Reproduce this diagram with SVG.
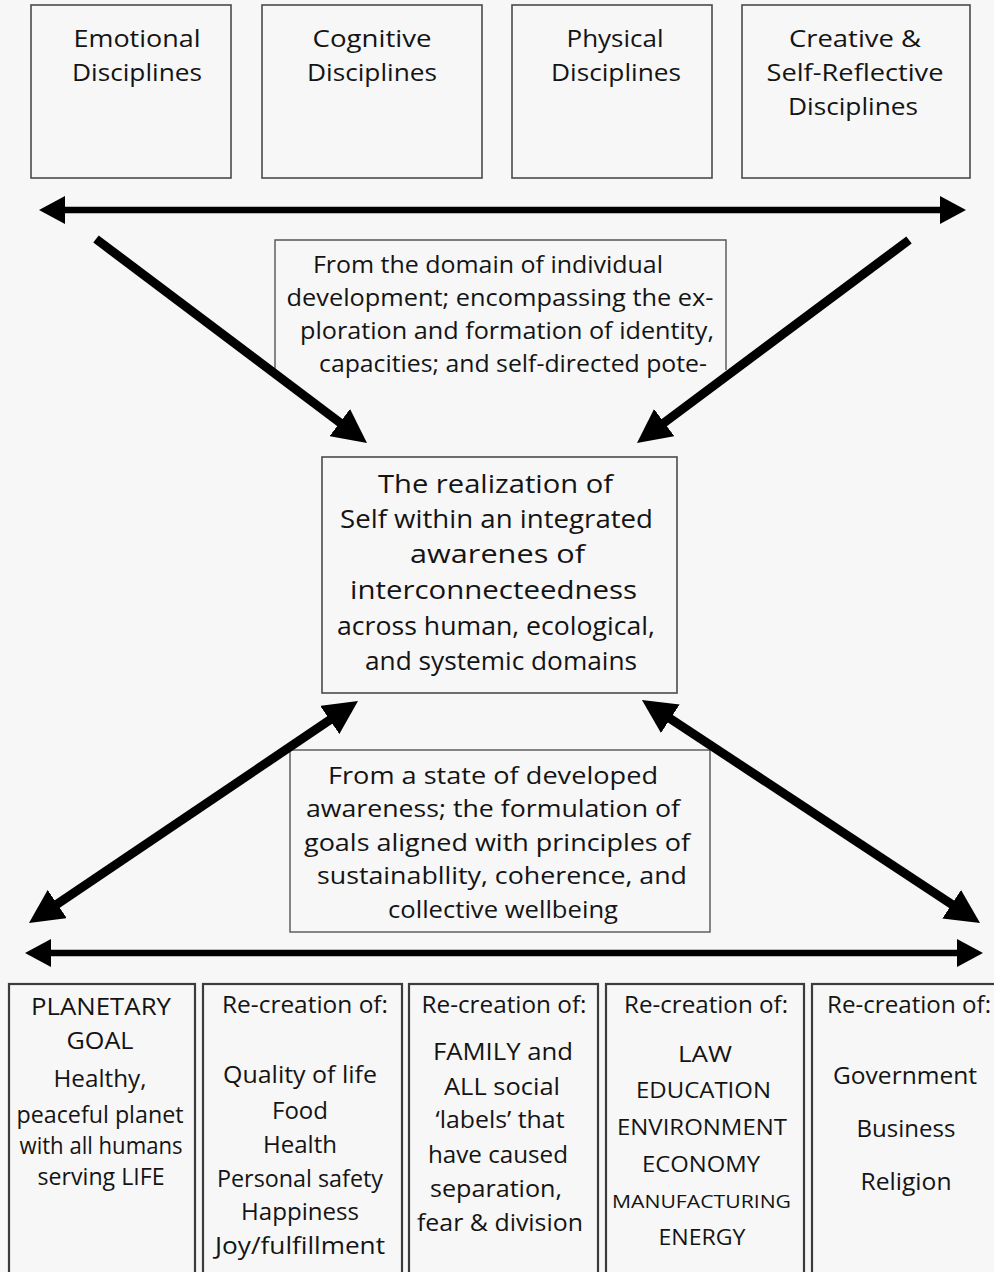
<svg xmlns="http://www.w3.org/2000/svg" width="994" height="1272" viewBox="0 0 994 1272">
  <style>
    .bg { fill: #f7f7f7; }
    .box { fill: none; stroke: #4a4a4a; stroke-width: 1.6; }
    .cbox { fill: none; stroke: #555; stroke-width: 1.4; }
    .lbox { fill: none; stroke: #3c3c3c; stroke-width: 2.2; }
    .t { font-family: "Open Sans", "Liberation Sans", sans-serif; fill: #141414; text-anchor: middle; }
    .f24 { font-size: 24px; }
    .f25 { font-size: 25px; }
    .f23 { font-size: 23px; }
    .f21 { font-size: 21px; }
    .f19 { font-size: 19px; }
    .h { stroke: #000; stroke-width: 6.5; fill: none; }
    .d { stroke: #000; stroke-width: 9; fill: none; }
  </style>
  <defs>
    <marker id="headH" viewBox="0 0 26 28" markerWidth="26" markerHeight="28" refX="16" refY="14" markerUnits="userSpaceOnUse" orient="auto-start-reverse">
      <path d="M0,0 L26,14 L0,28 z" fill="#000"/>
    </marker>
    <marker id="headD" viewBox="0 0 34 34" markerWidth="34" markerHeight="34" refX="24" refY="17" markerUnits="userSpaceOnUse" orient="auto-start-reverse">
      <path d="M0,0 L34,17 L0,34 z" fill="#000"/>
    </marker>
  </defs>

  <rect class="bg" x="0" y="0" width="994" height="1272"/>

  <!-- top row of disciplines -->
  <g id="emotional">
    <rect class="box" x="31" y="5" width="200" height="173"/>
    <text class="t f24" x="137" y="47" textLength="127" lengthAdjust="spacingAndGlyphs">Emotional</text>
    <text class="t f24" x="137" y="81" textLength="130" lengthAdjust="spacingAndGlyphs">Disciplines</text>
  </g>
  <g id="cognitive">
    <rect class="box" x="262" y="5" width="220" height="173"/>
    <text class="t f24" x="372" y="47" textLength="119" lengthAdjust="spacingAndGlyphs">Cognitive</text>
    <text class="t f24" x="372" y="81" textLength="130" lengthAdjust="spacingAndGlyphs">Disciplines</text>
  </g>
  <g id="physical">
    <rect class="box" x="512" y="5" width="200" height="173"/>
    <text class="t f24" x="615" y="47" textLength="97" lengthAdjust="spacingAndGlyphs">Physical</text>
    <text class="t f24" x="616" y="81" textLength="130" lengthAdjust="spacingAndGlyphs">Disciplines</text>
  </g>
  <g id="creative">
    <rect class="box" x="742" y="5" width="228" height="173"/>
    <text class="t f24" x="855" y="47" textLength="132" lengthAdjust="spacingAndGlyphs">Creative &amp;</text>
    <text class="t f24" x="855" y="81" textLength="177" lengthAdjust="spacingAndGlyphs">Self-Reflective</text>
    <text class="t f24" x="853" y="115" textLength="130" lengthAdjust="spacingAndGlyphs">Disciplines</text>
  </g>

  <!-- upper explanatory note (open at the bottom) -->
  <g id="note-individual">
    <path class="cbox" d="M275,370 L275,240 L726,240 L726,370"/>
    <text class="t f24" x="488" y="273" textLength="350" lengthAdjust="spacingAndGlyphs">From the domain of individual</text>
    <text class="t f24" x="500" y="306" textLength="427" lengthAdjust="spacingAndGlyphs">development; encompassing the ex-</text>
    <text class="t f24" x="507" y="339" textLength="414" lengthAdjust="spacingAndGlyphs">ploration and formation of identity,</text>
    <text class="t f24" x="513" y="372" textLength="388" lengthAdjust="spacingAndGlyphs">capacities; and self-directed pote-</text>
  </g>

  <!-- central realization -->
  <g id="realization">
    <rect class="box" x="322" y="457" width="355" height="236"/>
    <text class="t f25" x="495.5" y="493" textLength="235" lengthAdjust="spacingAndGlyphs">The realization of</text>
    <text class="t f25" x="496.5" y="528" textLength="313" lengthAdjust="spacingAndGlyphs">Self within an integrated</text>
    <text class="t f25" x="497.5" y="563" textLength="175" lengthAdjust="spacingAndGlyphs">awarenes of</text>
    <text class="t f25" x="493.5" y="599" textLength="287" lengthAdjust="spacingAndGlyphs">interconnecteedness</text>
    <text class="t f25" x="496" y="635" textLength="318" lengthAdjust="spacingAndGlyphs">across human, ecological,</text>
    <text class="t f25" x="501" y="670" textLength="272" lengthAdjust="spacingAndGlyphs">and systemic domains</text>
  </g>

  <!-- lower explanatory note -->
  <g id="note-goals">
    <rect class="cbox" x="290" y="750" width="420" height="182"/>
    <text class="t f24" x="493" y="784" textLength="330" lengthAdjust="spacingAndGlyphs">From a state of developed</text>
    <text class="t f24" x="493" y="817" textLength="374" lengthAdjust="spacingAndGlyphs">awareness; the formulation of</text>
    <text class="t f24" x="497" y="851" textLength="386" lengthAdjust="spacingAndGlyphs">goals aligned with principles of</text>
    <text class="t f24" x="502" y="884" textLength="370" lengthAdjust="spacingAndGlyphs">sustainabllity, coherence, and</text>
    <text class="t f24" x="503" y="918" textLength="230" lengthAdjust="spacingAndGlyphs">collective wellbeing</text>
  </g>

  <!-- bottom row of re-creation columns -->
  <g id="planetary-goal">
    <rect class="lbox" x="9" y="984" width="186" height="300"/>
    <text class="t f23" x="101" y="1015" textLength="140" lengthAdjust="spacingAndGlyphs">PLANETARY</text>
    <text class="t f23" x="100" y="1049" textLength="67" lengthAdjust="spacingAndGlyphs">GOAL</text>
    <text class="t f23" x="100" y="1087" textLength="93" lengthAdjust="spacingAndGlyphs">Healthy,</text>
    <text class="t f23" x="100" y="1123" textLength="167" lengthAdjust="spacingAndGlyphs">peaceful planet</text>
    <text class="t f23" x="101" y="1154" textLength="163" lengthAdjust="spacingAndGlyphs">with all humans</text>
    <text class="t f23" x="101" y="1185" textLength="127" lengthAdjust="spacingAndGlyphs">serving LIFE</text>
  </g>
  <g id="recreation-life">
    <rect class="lbox" x="203" y="984" width="199" height="300"/>
    <text class="t f23" x="305" y="1013" textLength="166" lengthAdjust="spacingAndGlyphs">Re-creation of:</text>
    <text class="t f23" x="300" y="1083" textLength="154" lengthAdjust="spacingAndGlyphs">Quality of life</text>
    <text class="t f23" x="300" y="1119" textLength="56" lengthAdjust="spacingAndGlyphs">Food</text>
    <text class="t f23" x="300" y="1153" textLength="74" lengthAdjust="spacingAndGlyphs">Health</text>
    <text class="t f23" x="300" y="1187" textLength="166" lengthAdjust="spacingAndGlyphs">Personal safety</text>
    <text class="t f23" x="300" y="1220" textLength="118" lengthAdjust="spacingAndGlyphs">Happiness</text>
    <text class="t f23" x="300" y="1254" textLength="170" lengthAdjust="spacingAndGlyphs">Joy/fulfillment</text>
  </g>
  <g id="recreation-family">
    <rect class="lbox" x="409" y="984" width="189" height="300"/>
    <text class="t f23" x="504" y="1013" textLength="165" lengthAdjust="spacingAndGlyphs">Re-creation of:</text>
    <text class="t f23" x="503" y="1060" textLength="140" lengthAdjust="spacingAndGlyphs">FAMILY and</text>
    <text class="t f23" x="502" y="1095" textLength="116" lengthAdjust="spacingAndGlyphs">ALL social</text>
    <text class="t f23" x="500" y="1128" textLength="129" lengthAdjust="spacingAndGlyphs">‘labels’ that</text>
    <text class="t f23" x="498" y="1163" textLength="140" lengthAdjust="spacingAndGlyphs">have caused</text>
    <text class="t f23" x="496" y="1197" textLength="132" lengthAdjust="spacingAndGlyphs">separation,</text>
    <text class="t f23" x="500" y="1231" textLength="166" lengthAdjust="spacingAndGlyphs">fear &amp; division</text>
  </g>
  <g id="recreation-institutions">
    <rect class="lbox" x="606" y="984" width="198" height="300"/>
    <text class="t f23" x="706" y="1013" textLength="164" lengthAdjust="spacingAndGlyphs">Re-creation of:</text>
    <text class="t f21" x="705" y="1062" textLength="54" lengthAdjust="spacingAndGlyphs">LAW</text>
    <text class="t f21" x="703.5" y="1098" textLength="135" lengthAdjust="spacingAndGlyphs">EDUCATION</text>
    <text class="t f21" x="702" y="1135" textLength="170" lengthAdjust="spacingAndGlyphs">ENVIRONMENT</text>
    <text class="t f21" x="701" y="1172" textLength="118" lengthAdjust="spacingAndGlyphs">ECONOMY</text>
    <text class="t f19" x="701.5" y="1208" textLength="179" lengthAdjust="spacingAndGlyphs">MANUFACTURING</text>
    <text class="t f21" x="702" y="1245" textLength="87" lengthAdjust="spacingAndGlyphs">ENERGY</text>
  </g>
  <g id="recreation-systems">
    <rect class="lbox" x="812" y="984" width="200" height="300"/>
    <text class="t f23" x="909" y="1013" textLength="164" lengthAdjust="spacingAndGlyphs">Re-creation of:</text>
    <text class="t f23" x="905" y="1084" textLength="144" lengthAdjust="spacingAndGlyphs">Government</text>
    <text class="t f23" x="906" y="1137" textLength="99" lengthAdjust="spacingAndGlyphs">Business</text>
    <text class="t f23" x="906" y="1190" textLength="91" lengthAdjust="spacingAndGlyphs">Religion</text>
  </g>

  <!-- connectors -->
  <g id="connectors">
    <line class="h" x1="49" y1="210" x2="956" y2="210" marker-start="url(#headH)" marker-end="url(#headH)"/>
    <line class="d" x1="96" y1="239" x2="359" y2="437" marker-end="url(#headD)"/>
    <line class="d" x1="909" y1="240" x2="645" y2="437" marker-end="url(#headD)"/>
    <line class="d" x1="349.7" y1="706.6" x2="37.3" y2="917.4" marker-start="url(#headD)" marker-end="url(#headD)"/>
    <line class="d" x1="650.3" y1="705.5" x2="971.7" y2="917.5" marker-start="url(#headD)" marker-end="url(#headD)"/>
    <line class="h" x1="35" y1="953" x2="973" y2="953" marker-start="url(#headH)" marker-end="url(#headH)"/>
  </g>
</svg>
